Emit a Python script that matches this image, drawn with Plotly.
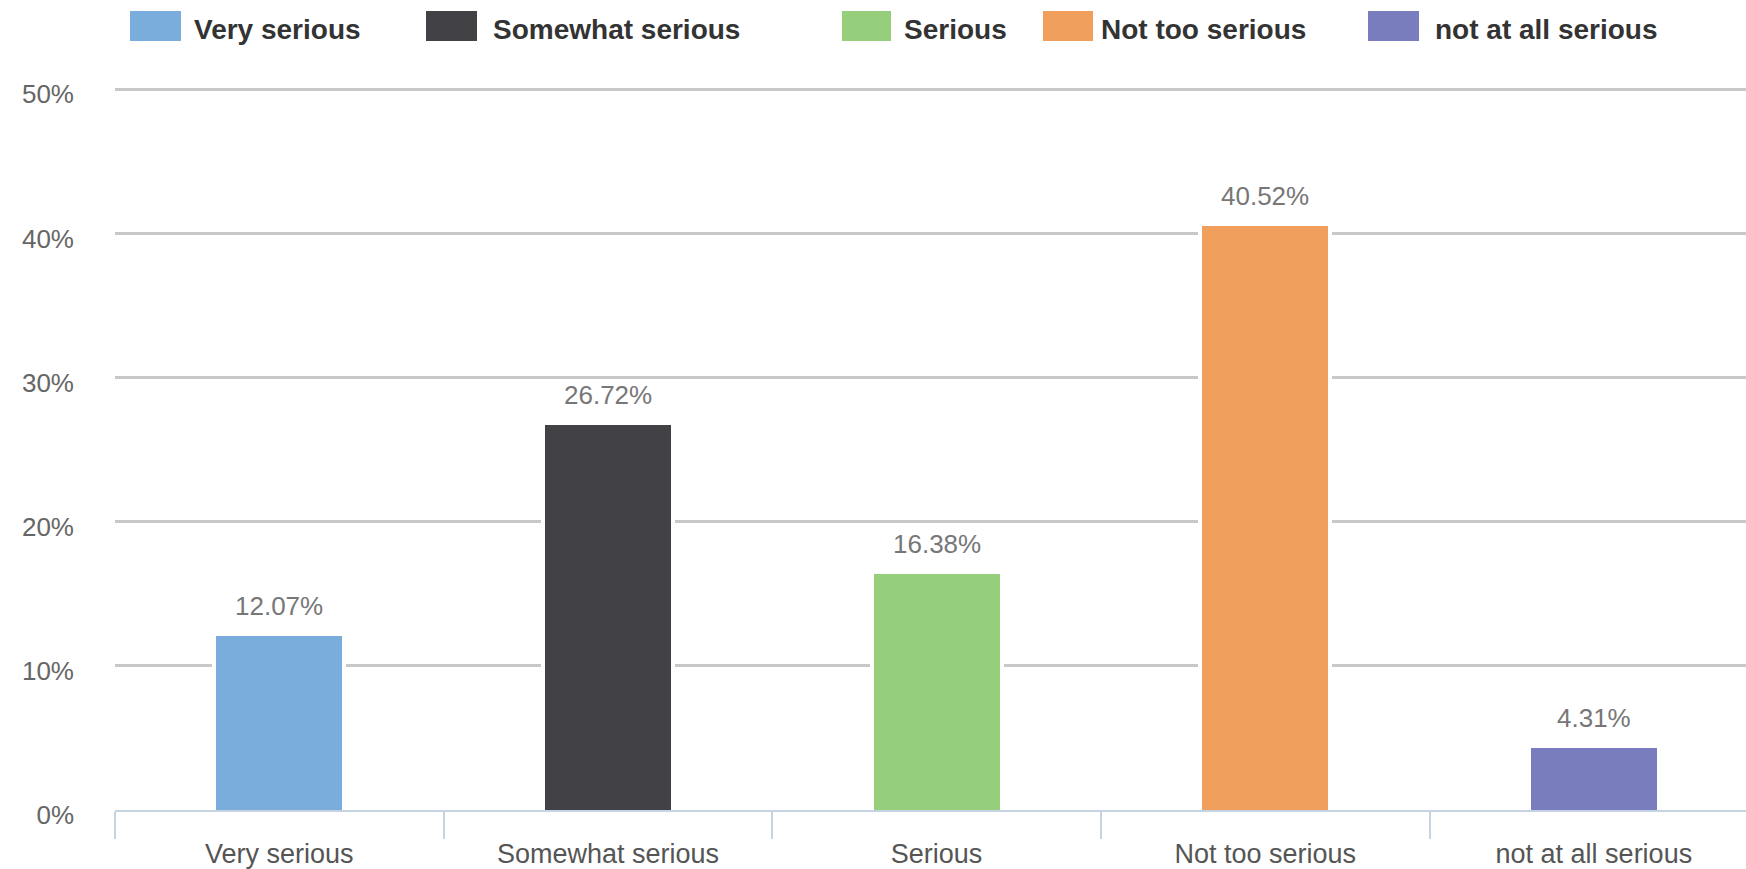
import plotly.graph_objects as go

# Survey responses: share of respondents per seriousness rating
categories = ["Very serious", "Somewhat serious", "Serious", "Not too serious", "not at all serious"]
shares = [12.07, 26.72, 16.38, 40.52, 4.31]
colors = ["#7aacdc", "#414146", "#96cf7c", "#f0a05c", "#797dbd"]
y_ticks = [0, 10, 20, 30, 40, 50]
y_tick_labels = ["0%", "10%", "20%", "30%", "40%", "50%"]

W, H = 1746, 869
Y_TOP = 50.3                      # a little headroom so the 50% gridline is drawn
M_L, M_R, M_B = 115, 0, 59
PX_PER_UNIT = (810 - 89) / 50.0
M_T = int(round(89 - (Y_TOP - 50) * PX_PER_UNIT))
PLOT_W = W - M_L - M_R
PLOT_H = H - M_T - M_B
BAR_W = 0.383
FONT = "Liberation Sans, Arial, sans-serif"


def px_x(px):
    return (px - M_L) / PLOT_W


def px_y(py):
    return (H - M_B - py) / PLOT_H


fig = go.Figure()

# White halo behind each bar so the gridlines stop short of the bars
fig.add_trace(go.Bar(
    x=categories, y=shares, width=BAR_W,
    marker=dict(color="white", line=dict(color="white", width=8)),
    showlegend=False, hoverinfo="skip",
))

for cat, val, col in zip(categories, shares, colors):
    fig.add_trace(go.Bar(
        x=[cat], y=[val], name=cat, width=BAR_W,
        marker=dict(color=col, line=dict(width=0)),
        showlegend=False,
    ))
    fig.add_annotation(
        x=cat, y=val, xref="x", yref="y", text=f"{val:.2f}%",
        showarrow=False, yanchor="bottom", yshift=13,
        font=dict(family=FONT, size=26, color="#777777"),
    )

# Legend row along the top: swatch boxes with bold labels
legend_items = [
    (130, 181, 192),
    (426, 477, 491),
    (842, 891, 902),
    (1043, 1093, 1099),
    (1368, 1419, 1433),
]
for (x0, x1, tx), cat, col in zip(legend_items, categories, colors):
    fig.add_shape(
        type="rect", xref="paper", yref="paper",
        x0=px_x(x0), x1=px_x(x1), y0=px_y(41), y1=px_y(11),
        fillcolor=col, line=dict(width=0), layer="above",
    )
    fig.add_annotation(
        xref="paper", yref="paper", x=px_x(tx), y=px_y(29),
        xanchor="left", yanchor="middle", text=f"<b>{cat}</b>",
        showarrow=False, font=dict(family=FONT, size=28, color="#333333"),
    )

fig.update_layout(
    width=W, height=H,
    margin=dict(l=M_L, r=M_R, t=M_T, b=M_B, pad=0),
    paper_bgcolor="white", plot_bgcolor="white",
    barmode="overlay", bargap=0,
    showlegend=False,
    font=dict(family=FONT),
)

fig.update_xaxes(
    type="category", categoryorder="array", categoryarray=categories,
    range=[-0.5, 4.463],
    showgrid=False, zeroline=False,
    showline=True, linecolor="#c5d3e3", linewidth=2,
    ticks="outside", tickson="boundaries", ticklen=27, tickwidth=2,
    tickcolor="#c5d3e3", ticklabelstandoff=19,
    tickfont=dict(family=FONT, size=27, color="#555555"),
)

fig.update_yaxes(
    range=[0, Y_TOP], tickvals=y_ticks, ticktext=y_tick_labels,
    showgrid=True, gridcolor="#c8c8c8", gridwidth=2.5,
    zeroline=False, showline=False, ticks="",
    ticklabelstandoff=40, ticklabelshift=5,
    tickfont=dict(family=FONT, size=26, color="#666666"),
)

fig.write_html("out.html")
